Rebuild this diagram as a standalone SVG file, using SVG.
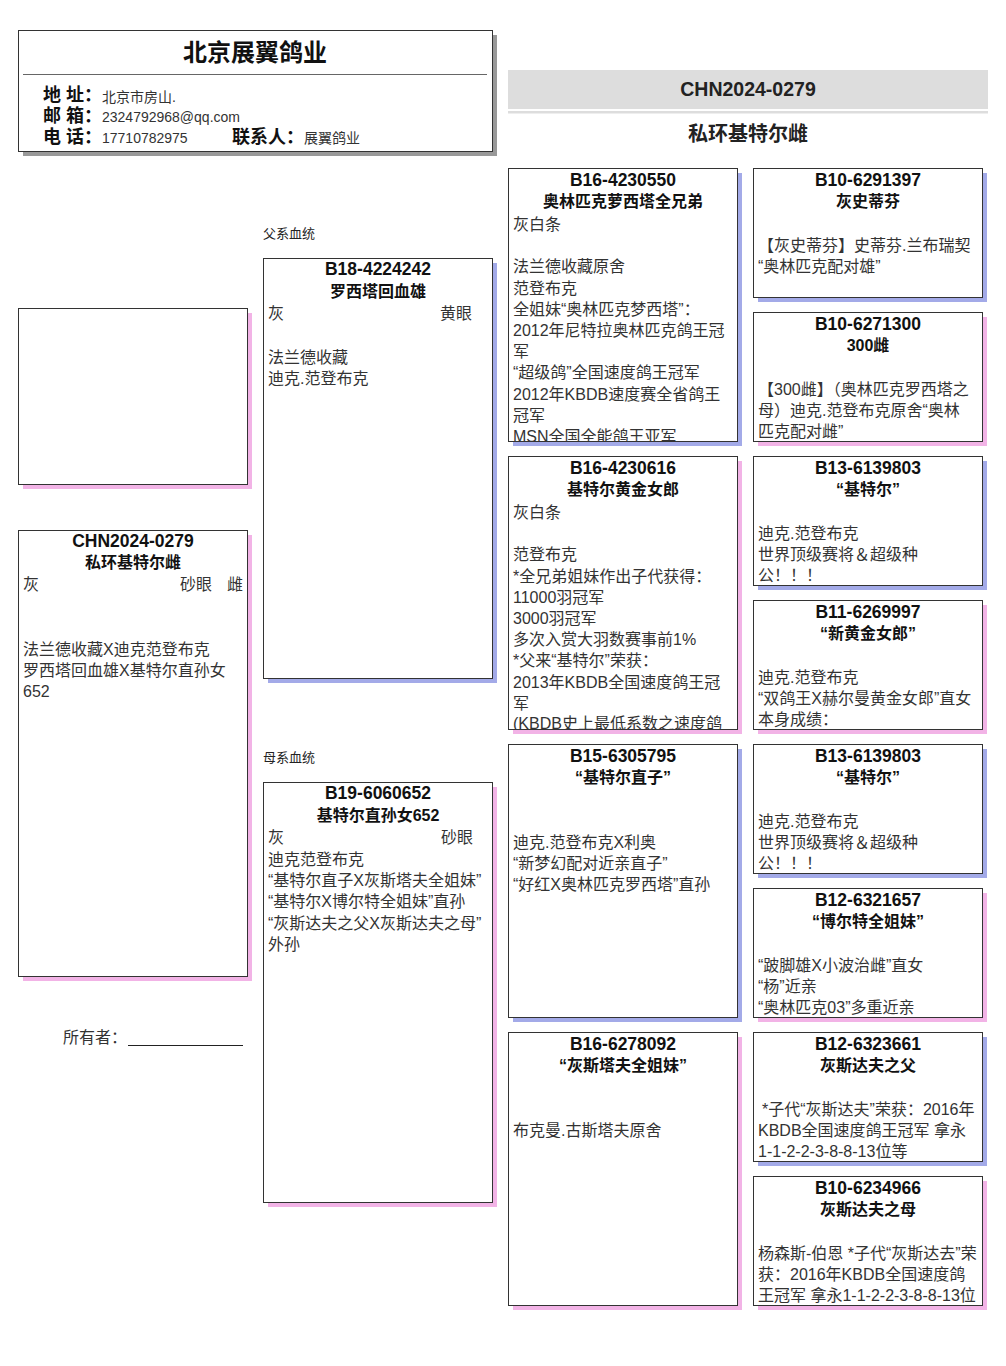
<svg xmlns="http://www.w3.org/2000/svg" width="1006" height="1366" viewBox="0 0 1006 1366">
<style>
.bg{fill:#fff}
.box{fill:#fff;stroke:#333;stroke-width:1}
.sm{fill:#a3aae8}
.sf{fill:#f2b3e6}
.sg{fill:#999}
.id{font-family:"Liberation Sans","Noto Sans CJK SC",sans-serif;font-weight:bold;font-size:17.5px;text-anchor:middle;fill:#111}
.nm{font-family:"Liberation Sans","Noto Sans CJK SC",sans-serif;font-weight:bold;font-size:16px;text-anchor:middle;fill:#111}
.tx{font-family:"Liberation Sans","Noto Sans CJK SC",sans-serif;font-size:16px;fill:#333}
.lb{font-family:"Liberation Sans","Noto Sans CJK SC",sans-serif;font-weight:bold;font-size:18px;fill:#111}
.vl{font-family:"Liberation Sans","Noto Sans CJK SC",sans-serif;font-size:14px;fill:#333}
.sec{font-family:"Liberation Sans","Noto Sans CJK SC",sans-serif;font-size:13px;fill:#222}
</style>
<defs>
<clipPath id="cSS"><rect x="509" y="169" width="228" height="272"/></clipPath>
<clipPath id="cSD"><rect x="509" y="457" width="228" height="272"/></clipPath>
</defs>
<rect class="bg" x="0" y="0" width="1006" height="1366"/>

<g id="header">
<rect class="sg" x="23" y="35" width="474" height="121"/>
<rect class="box" x="18.5" y="30.5" width="474" height="121"/>
<text x="255" y="61" font-family="Liberation Sans, Noto Sans CJK SC, sans-serif" font-weight="bold" font-size="24" text-anchor="middle" fill="#111">北京展翼鸽业</text>
<line x1="23" y1="74.5" x2="487" y2="74.5" stroke="#666" stroke-width="1"/>
<text class="lb" x="43" y="101">地 址：</text>
<text class="vl" x="102" y="102">北京市房山.</text>
<text class="lb" x="43" y="122">邮 箱：</text>
<text class="vl" x="102" y="122">2324792968@qq.com</text>
<text class="lb" x="43" y="143">电 话：</text>
<text class="vl" x="102" y="143">17710782975</text>
<text class="lb" x="232" y="143">联系人：</text>
<text class="vl" x="304" y="143">展翼鸽业</text>
</g>

<g id="title">
<rect x="508" y="70" width="480" height="39" fill="#dddddd"/>
<rect x="508" y="111" width="480" height="2.5" fill="#dddddd"/>
<text x="748" y="96" font-family="Liberation Sans, Noto Sans CJK SC, sans-serif" font-weight="bold" font-size="19.5" text-anchor="middle" fill="#222">CHN2024-0279</text>
<text x="748" y="141" font-family="Liberation Sans, Noto Sans CJK SC, sans-serif" font-weight="bold" font-size="20" text-anchor="middle" fill="#222">私环基特尔雌</text>
</g>

<g id="photo">
<rect class="sf" x="23" y="313" width="229" height="176"/>
<rect class="box" x="18.5" y="308.5" width="229" height="176"/>
</g>

<g id="self">
<rect class="sf" x="23" y="535" width="229" height="446"/>
<rect class="box" x="18.5" y="530.5" width="229" height="446"/>
<text class="id" x="133" y="547">CHN2024-0279</text>
<text class="nm" x="133" y="568">私环基特尔雌</text>
<text class="tx" x="23" y="590">灰</text>
<text class="tx" x="180" y="590">砂眼</text>
<text class="tx" x="227" y="590">雌</text>
<text class="tx" x="23" y="655">法兰德收藏X迪克范登布克</text>
<text class="tx" x="23" y="676">罗西塔回血雄X基特尔直孙女</text>
<text class="tx" x="23" y="697">652</text>
</g>

<g id="owner">
<text class="tx" x="63" y="1043" font-size="15">所有者：</text>
<line x1="128" y1="1045.5" x2="243" y2="1045.5" stroke="#222" stroke-width="1"/>
</g>

<text class="sec" x="263" y="238">父系血统</text>
<text class="sec" x="263" y="762">母系血统</text>

<g id="sire">
<rect class="sm" x="268" y="263" width="229" height="420"/>
<rect class="box" x="263.5" y="258.5" width="229" height="420"/>
<text class="id" x="378" y="275">B18-4224242</text>
<text class="nm" x="378" y="297">罗西塔回血雄</text>
<text class="tx" x="268" y="319">灰</text>
<text class="tx" x="440" y="319">黄眼</text>
<text class="tx" x="268" y="363">法兰德收藏</text>
<text class="tx" x="268" y="384">迪克.范登布克</text>
</g>

<g id="dam">
<rect class="sf" x="268" y="787" width="229" height="420"/>
<rect class="box" x="263.5" y="782.5" width="229" height="420"/>
<text class="id" x="378" y="799">B19-6060652</text>
<text class="nm" x="378" y="821">基特尔直孙女652</text>
<text class="tx" x="268" y="843">灰</text>
<text class="tx" x="441" y="843">砂眼</text>
<text class="tx" x="268" y="864.5">迪克范登布克</text>
<text class="tx" x="268" y="886">“基特尔直子X灰斯塔夫全姐妹”</text>
<text class="tx" x="268" y="907">“基特尔X博尔特全姐妹”直孙</text>
<text class="tx" x="268" y="928.5">“灰斯达夫之父X灰斯达夫之母”</text>
<text class="tx" x="268" y="950">外孙</text>
</g>

<g id="ss">
<rect class="sm" x="513" y="173" width="229" height="273"/>
<rect class="box" x="508.5" y="168.5" width="229" height="273"/>
<text class="id" x="623" y="186">B16-4230550</text>
<text class="nm" x="623" y="207">奥林匹克萝西塔全兄弟</text>
<g clip-path="url(#cSS)">
<text class="tx" x="513" y="230">灰白条</text>
<text class="tx" x="513" y="272.4">法兰德收藏原舍</text>
<text class="tx" x="513" y="293.6">范登布克</text>
<text class="tx" x="513" y="314.8">全姐妹“奥林匹克梦西塔”：</text>
<text class="tx" x="513" y="336">2012年尼特拉奥林匹克鸽王冠</text>
<text class="tx" x="513" y="357.2">军</text>
<text class="tx" x="513" y="378.4">“超级鸽”全国速度鸽王冠军</text>
<text class="tx" x="513" y="399.6">2012年KBDB速度赛全省鸽王</text>
<text class="tx" x="513" y="420.8">冠军</text>
<text class="tx" x="513" y="442">MSN全国全能鸽王亚军</text>
</g>
</g>

<g id="sd">
<rect class="sf" x="513" y="461" width="229" height="273"/>
<rect class="box" x="508.5" y="456.5" width="229" height="273"/>
<text class="id" x="623" y="474">B16-4230616</text>
<text class="nm" x="623" y="495">基特尔黄金女郎</text>
<g clip-path="url(#cSD)">
<text class="tx" x="513" y="518">灰白条</text>
<text class="tx" x="513" y="560.4">范登布克</text>
<text class="tx" x="513" y="581.6">*全兄弟姐妹作出子代获得：</text>
<text class="tx" x="513" y="602.8">11000羽冠军</text>
<text class="tx" x="513" y="624">3000羽冠军</text>
<text class="tx" x="513" y="645.2">多次入赏大羽数赛事前1%</text>
<text class="tx" x="513" y="666.4">*父来“基特尔”荣获：</text>
<text class="tx" x="513" y="687.6">2013年KBDB全国速度鸽王冠</text>
<text class="tx" x="513" y="708.8">军</text>
<text class="tx" x="513" y="729">(KBDB史上最低系数之速度鸽</text>
</g>
</g>

<g id="ds">
<rect class="sm" x="513" y="749" width="229" height="273"/>
<rect class="box" x="508.5" y="744.5" width="229" height="273"/>
<text class="id" x="623" y="762">B15-6305795</text>
<text class="nm" x="623" y="783">“基特尔直子”</text>
<text class="tx" x="513" y="848">迪克.范登布克X利奥</text>
<text class="tx" x="513" y="869">“新梦幻配对近亲直子”</text>
<text class="tx" x="513" y="890">“好红X奥林匹克罗西塔”直孙</text>
</g>

<g id="dd">
<rect class="sf" x="513" y="1037" width="229" height="273"/>
<rect class="box" x="508.5" y="1032.5" width="229" height="273"/>
<text class="id" x="623" y="1050">B16-6278092</text>
<text class="nm" x="623" y="1071">“灰斯塔夫全姐妹”</text>
<text class="tx" x="513" y="1136">布克曼.古斯塔夫原舍</text>
</g>

<g id="sss">
<rect class="sm" x="758" y="173" width="229" height="129"/>
<rect class="box" x="753.5" y="168.5" width="229" height="129"/>
<text class="id" x="868" y="186">B10-6291397</text>
<text class="nm" x="868" y="207">灰史蒂芬</text>
<text class="tx" x="758" y="250.5">【灰史蒂芬】史蒂芬.兰布瑞契</text>
<text class="tx" x="758" y="271.7">“奥林匹克配对雄”</text>
</g>

<g id="ssd">
<rect class="sf" x="758" y="317" width="229" height="129"/>
<rect class="box" x="753.5" y="312.5" width="229" height="129"/>
<text class="id" x="868" y="330">B10-6271300</text>
<text class="nm" x="868" y="351">300雌</text>
<text class="tx" x="758" y="394.5">【300雌】（奥林匹克罗西塔之</text>
<text class="tx" x="758" y="415.7">母）迪克.范登布克原舍“奥林</text>
<text class="tx" x="758" y="436.9">匹克配对雌”</text>
</g>

<g id="sds">
<rect class="sm" x="758" y="461" width="229" height="129"/>
<rect class="box" x="753.5" y="456.5" width="229" height="129"/>
<text class="id" x="868" y="474">B13-6139803</text>
<text class="nm" x="868" y="495">“基特尔”</text>
<text class="tx" x="758" y="538.5">迪克.范登布克</text>
<text class="tx" x="758" y="559.7">世界顶级赛将＆超级种</text>
<text class="tx" x="758" y="580.9">公！！！</text>
</g>

<g id="sdd">
<rect class="sf" x="758" y="605" width="229" height="129"/>
<rect class="box" x="753.5" y="600.5" width="229" height="129"/>
<text class="id" x="868" y="618">B11-6269997</text>
<text class="nm" x="868" y="639">“新黄金女郎”</text>
<text class="tx" x="758" y="682.5">迪克.范登布克</text>
<text class="tx" x="758" y="703.7">“双鸽王X赫尔曼黄金女郎”直女</text>
<text class="tx" x="758" y="724.9">本身成绩：</text>
</g>

<g id="dss">
<rect class="sm" x="758" y="749" width="229" height="129"/>
<rect class="box" x="753.5" y="744.5" width="229" height="129"/>
<text class="id" x="868" y="762">B13-6139803</text>
<text class="nm" x="868" y="783">“基特尔”</text>
<text class="tx" x="758" y="826.5">迪克.范登布克</text>
<text class="tx" x="758" y="847.7">世界顶级赛将＆超级种</text>
<text class="tx" x="758" y="868.9">公！！！</text>
</g>

<g id="dsd">
<rect class="sf" x="758" y="893" width="229" height="129"/>
<rect class="box" x="753.5" y="888.5" width="229" height="129"/>
<text class="id" x="868" y="906">B12-6321657</text>
<text class="nm" x="868" y="927">“博尔特全姐妹”</text>
<text class="tx" x="758" y="970.5">“跛脚雄X小波治雌”直女</text>
<text class="tx" x="758" y="991.7">“杨”近亲</text>
<text class="tx" x="758" y="1012.9">“奥林匹克03”多重近亲</text>
</g>

<g id="dds">
<rect class="sm" x="758" y="1037" width="229" height="129"/>
<rect class="box" x="753.5" y="1032.5" width="229" height="129"/>
<text class="id" x="868" y="1050">B12-6323661</text>
<text class="nm" x="868" y="1071">灰斯达夫之父</text>
<text class="tx" x="762" y="1114.5">*子代“灰斯达夫”荣获：2016年</text>
<text class="tx" x="758" y="1135.7">KBDB全国速度鸽王冠军 拿永</text>
<text class="tx" x="758" y="1156.9">1-1-2-2-3-8-8-13位等</text>
</g>

<g id="ddd">
<rect class="sf" x="758" y="1181" width="229" height="129"/>
<rect class="box" x="753.5" y="1176.5" width="229" height="129"/>
<text class="id" x="868" y="1194">B10-6234966</text>
<text class="nm" x="868" y="1215">灰斯达夫之母</text>
<text class="tx" x="758" y="1258.5">杨森斯-伯恩 *子代“灰斯达去”荣</text>
<text class="tx" x="758" y="1279.7">获：2016年KBDB全国速度鸽</text>
<text class="tx" x="758" y="1300.9">王冠军 拿永1-1-2-2-3-8-8-13位</text>
</g>

<g id="connectors"></g>
</svg>
